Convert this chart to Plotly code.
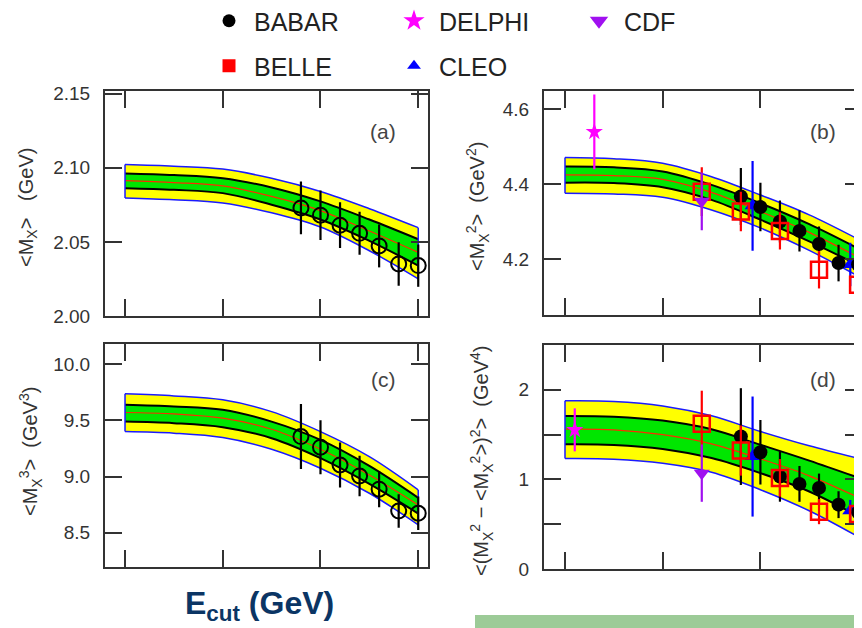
import plotly.graph_objects as go

# ---------------- data ----------------
E_band = [0.0, 0.25, 0.5, 0.75, 1.0, 1.25, 1.5]

# panel (a) <M_X>
a_mid = [2.0913, 2.0900, 2.0878, 2.0807, 2.0711, 2.0573, 2.0429]
a_in_hi = [2.0962, 2.0951, 2.0929, 2.0867, 2.0773, 2.0651, 2.0518]
a_in_lo = [2.0862, 2.0851, 2.0829, 2.0751, 2.0651, 2.0507, 2.0340]
a_out_hi = [2.1022, 2.1011, 2.0991, 2.0929, 2.0840, 2.0724, 2.0596]
a_out_lo = [2.0796, 2.0784, 2.0762, 2.0696, 2.0600, 2.0440, 2.0251]

# panel (b) <M_X^2>
b_mid = [4.425, 4.423, 4.413, 4.378, 4.327, 4.271, 4.205]
b_in_hi = [4.447, 4.445, 4.434, 4.398, 4.349, 4.293, 4.228]
b_in_lo = [4.404, 4.403, 4.392, 4.358, 4.305, 4.247, 4.184]
b_out_hi = [4.471, 4.468, 4.456, 4.420, 4.371, 4.318, 4.253]
b_out_lo = [4.376, 4.374, 4.365, 4.331, 4.283, 4.223, 4.154]

# panel (c) <M_X^3>
c_mid = [9.570, 9.558, 9.520, 9.421, 9.243, 9.014, 8.747]
c_in_hi = [9.638, 9.623, 9.594, 9.489, 9.326, 9.094, 8.810]
c_in_lo = [9.489, 9.475, 9.439, 9.341, 9.163, 8.934, 8.670]
c_out_hi = [9.736, 9.718, 9.683, 9.578, 9.400, 9.177, 8.881]
c_out_lo = [9.400, 9.386, 9.347, 9.243, 9.074, 8.851, 8.570]

# panel (d) <(M_X^2 - <M_X^2>)^2>
d_mid = [1.560, 1.553, 1.500, 1.397, 1.229, 1.040, 0.800]
d_in_hi = [1.708, 1.700, 1.657, 1.560, 1.387, 1.210, 1.020]
d_in_lo = [1.392, 1.385, 1.340, 1.238, 1.070, 0.865, 0.590]
d_out_hi = [1.877, 1.870, 1.820, 1.710, 1.535, 1.375, 1.235]
d_out_lo = [1.232, 1.225, 1.180, 1.080, 0.885, 0.650, 0.360]

# experimental points
E_babar = [0.9, 1.0, 1.1, 1.2, 1.3, 1.4, 1.5]
E_belle = [0.7, 0.9, 1.1, 1.3, 1.5]
E_cleo = [0.96, 1.46]
E_cdf = [0.7]
E_delphi_b = [0.15]
E_delphi_d = [0.05]

a_babar = [2.0729, 2.0680, 2.0613, 2.0558, 2.0473, 2.0351, 2.0340]
a_babar_err = [0.0178, 0.0167, 0.0155, 0.0145, 0.0145, 0.0147, 0.0143]

c_babar = [9.356, 9.261, 9.103, 9.005, 8.887, 8.693, 8.673]
c_babar_err = [0.29, 0.24, 0.20, 0.18, 0.16, 0.15, 0.15]

b_babar = [4.367, 4.339, 4.300, 4.275, 4.240, 4.189, 4.185]
b_babar_err = [0.076, 0.065, 0.056, 0.055, 0.047, 0.049, 0.050]
b_belle = [4.380, 4.327, 4.275, 4.171, 4.131]
b_belle_err = [0.065, 0.053, 0.050, 0.050, 0.045]
b_cleo = [4.342, 4.185]
b_cleo_err = [0.12, 0.058]
b_cdf = [4.354]
b_cdf_err = [0.077]
b_delphi = [4.540]
b_delphi_err = [0.10]

d_babar = [1.478, 1.303, 1.031, 0.950, 0.905, 0.718, 0.633]
d_babar_err = [0.54, 0.36, 0.28, 0.20, 0.16, 0.15, 0.13]
d_belle = [1.620, 1.322, 1.017, 0.640, 0.614]
d_belle_err = [0.37, 0.28, 0.21, 0.14, 0.12]
d_cleo = [1.255, 0.651]
d_cleo_err = [0.67, 0.12]
d_cdf = [1.070]
d_cdf_err = [0.32]
d_delphi = [1.553]
d_delphi_err = [0.24]

x_ticks = [0.0, 0.5, 1.0, 1.5]
a_ticks = [2.00, 2.05, 2.10, 2.15]
b_ticks = [4.2, 4.4, 4.6]
c_ticks = [8.5, 9.0, 9.5, 10.0]
d_ticks = [0, 0.5, 1, 1.5, 2]
d_ticktext = ["0", "", "1", "", "2"]

legend_row1 = ["BABAR", "DELPHI", "CDF"]
legend_row2 = ["BELLE", "CLEO"]

# ---------------- styles ----------------
YELLOW = "#ffff00"
GREEN = "#00e600"
BLUE = "#1a1aff"
RED_LINE = "#ff2a00"
AX = "#333333"
FONT = "Liberation Sans, Arial, Helvetica, sans-serif"

C_BABAR = "#000000"
C_BELLE = "#ff0000"
C_CLEO = "#0000ff"
C_CDF = "#a010f0"
C_DELPHI = "#ff00ff"

# the page body adds an 8 px margin, so the figure is laid out 8 px in
OFF = 8
W, H = 862 - OFF, 628 - OFF
fig = go.Figure()


def add_band(xa, ya, mid, in_hi, in_lo, out_hi, out_lo):
    common = dict(x=E_band, mode="lines", xaxis=xa, yaxis=ya, showlegend=False, hoverinfo="skip")
    fig.add_trace(go.Scatter(y=out_lo, line=dict(color=BLUE, width=1.5, shape="spline"), **common))
    fig.add_trace(go.Scatter(y=out_hi, fill="tonexty", fillcolor=YELLOW,
                             line=dict(color=BLUE, width=1.5, shape="spline"), **common))
    fig.add_trace(go.Scatter(y=in_lo, line=dict(color="black", width=2, shape="spline"), **common))
    fig.add_trace(go.Scatter(y=in_hi, fill="tonexty", fillcolor=GREEN,
                             line=dict(color="black", width=2, shape="spline"), **common))
    fig.add_trace(go.Scatter(y=mid, line=dict(color=RED_LINE, width=1.2, shape="spline"), **common))
    fig.add_trace(go.Scatter(x=[E_band[0], E_band[0], None, E_band[-1], E_band[-1]],
                             y=[out_lo[0], out_hi[0], None, out_lo[-1], out_hi[-1]],
                             mode="lines", line=dict(color=BLUE, width=1.5),
                             xaxis=xa, yaxis=ya, showlegend=False, hoverinfo="skip"))


def add_points(xa, ya, x, y, err, color, symbol, size, lw=0):
    fig.add_trace(go.Scatter(
        x=x, y=y, mode="markers", xaxis=xa, yaxis=ya, showlegend=False,
        error_y=dict(type="data", array=err, visible=True, color=color, thickness=2.2, width=0),
        marker=dict(symbol=symbol, size=size, color=color,
                    line=dict(color=color, width=lw))))


# bands
add_band("x", "y", a_mid, a_in_hi, a_in_lo, a_out_hi, a_out_lo)
add_band("x2", "y2", b_mid, b_in_hi, b_in_lo, b_out_hi, b_out_lo)
add_band("x3", "y3", c_mid, c_in_hi, c_in_lo, c_out_hi, c_out_lo)
add_band("x4", "y4", d_mid, d_in_hi, d_in_lo, d_out_hi, d_out_lo)

# panel (a),(c): open circles
add_points("x", "y", E_babar, a_babar, a_babar_err, C_BABAR, "circle-open", 15, 2)
add_points("x3", "y3", E_babar, c_babar, c_babar_err, C_BABAR, "circle-open", 15, 2)

# panel (b)
add_points("x2", "y2", E_cleo, b_cleo, b_cleo_err, C_CLEO, "triangle-up", 14)
add_points("x2", "y2", E_babar, b_babar, b_babar_err, C_BABAR, "circle", 14)
add_points("x2", "y2", E_belle, b_belle, b_belle_err, C_BELLE, "square-open", 16, 2.5)
add_points("x2", "y2", E_cdf, b_cdf, b_cdf_err, C_CDF, "triangle-down", 14)
add_points("x2", "y2", E_delphi_b, b_delphi, b_delphi_err, C_DELPHI, "star", 13)

# panel (d)
add_points("x4", "y4", E_cleo, d_cleo, d_cleo_err, C_CLEO, "triangle-up", 14)
add_points("x4", "y4", E_babar, d_babar, d_babar_err, C_BABAR, "circle", 14)
add_points("x4", "y4", E_belle, d_belle, d_belle_err, C_BELLE, "square-open", 16, 2.5)
add_points("x4", "y4", E_cdf, d_cdf, d_cdf_err, C_CDF, "triangle-down", 14)
add_points("x4", "y4", E_delphi_d, d_delphi, d_delphi_err, C_DELPHI, "star", 13)

# legend entries
leg_style = {
    "BABAR": ("circle", C_BABAR, 13),
    "DELPHI": ("star", C_DELPHI, 16),
    "CDF": ("triangle-down", C_CDF, 16),
    "BELLE": ("square", C_BELLE, 13),
    "CLEO": ("triangle-up", C_CLEO, 12),
}
for names, leg in ((legend_row1, "legend"), (legend_row2, "legend2")):
    for n in names:
        sym, col, sz = leg_style[n]
        fig.add_trace(go.Scatter(x=[None], y=[None], mode="markers", name=n, legend=leg,
                                 marker=dict(symbol=sym, color=col, size=sz, line=dict(width=0)),
                                 xaxis="x", yaxis="y"))


# ---------------- axes ----------------
def px_x(p):
    return (p - OFF) / W


def px_y(p):
    return 1 - (p - OFF) / H


xcommon = dict(showticklabels=False, ticks="inside", ticklen=17, tickwidth=2, tickcolor=AX,
               showline=True, linewidth=2, linecolor=AX, mirror="ticks", showgrid=False,
               zeroline=False, tickvals=x_ticks, automargin=False)
ycommon = dict(ticks="inside", ticklen=17, tickwidth=2, tickcolor=AX, showline=True,
               linewidth=2, linecolor=AX, mirror="ticks", showgrid=False, zeroline=False,
               tickfont=dict(family=FONT, size=19, color=AX), ticklabelstandoff=9,
               automargin=False)

left_dom = [px_x(105), px_x(428)]
right_dom = [px_x(544), 1.0]
left_range = [-0.1024, 1.55]
right_range = [-0.1075, 1.52]

fig.update_layout(
    xaxis=dict(domain=left_dom, range=left_range, anchor="y", **xcommon),
    yaxis=dict(domain=[px_y(316), px_y(90.7)], range=[2.0, 2.152], tickvals=a_ticks,
               tickformat=".2f", anchor="x", **ycommon),
    xaxis2=dict(domain=right_dom, range=right_range, anchor="y2", **xcommon),
    yaxis2=dict(domain=[px_y(315), px_y(90.7)], range=[4.05, 4.65], tickvals=b_ticks,
                tickformat=".1f", anchor="x2", **ycommon),
    xaxis3=dict(domain=left_dom, range=left_range, anchor="y3", **xcommon),
    yaxis3=dict(domain=[px_y(566.7), px_y(344)], range=[8.197, 10.18], tickvals=c_ticks,
                tickformat=".1f", anchor="x3", **ycommon),
    xaxis4=dict(domain=right_dom, range=right_range, anchor="y4", **xcommon),
    yaxis4=dict(domain=[px_y(569), px_y(345)], range=[0, 2.5], tickvals=d_ticks,
                ticktext=d_ticktext, anchor="x4", **ycommon),
)

# ---------------- text ----------------
ann = []
lab_font = dict(family=FONT, size=21, color="#444444")
for txt, x, y in (("(a)", 383, 132), ("(b)", 823, 132), ("(c)", 383, 379), ("(d)", 823, 379)):
    ann.append(dict(text=txt, x=px_x(x), y=px_y(y), xref="paper", yref="paper",
                    showarrow=False, font=lab_font, xanchor="center", yanchor="middle"))

tfont = dict(family=FONT, size=20, color=AX)
ytitles = [
    ("&lt;M<sub>X</sub>&gt;   (GeV)", 28, 208),
    ("&lt;M<sub>X</sub><sup>2</sup>&gt;  (GeV<sup>2</sup>)", 477, 207),
    ("&lt;M<sub>X</sub><sup>3</sup>&gt;  (GeV<sup>3</sup>)", 30, 452),
    ("&lt;(M<sub>X</sub><sup>2</sup> − &lt;M<sub>X</sub><sup>2</sup>&gt;)<sup>2</sup>&gt;  (GeV<sup>4</sup>)", 481, 460),
]
for txt, x, y in ytitles:
    ann.append(dict(text=txt, x=px_x(x), y=px_y(y), xref="paper", yref="paper",
                    showarrow=False, font=tfont, textangle=-90,
                    xanchor="center", yanchor="middle"))

ann.append(dict(text="<b>E<sub>cut</sub> (GeV)</b>", x=px_x(259), y=px_y(605),
                xref="paper", yref="paper", showarrow=False,
                font=dict(family=FONT, size=32, color="#0b3564"),
                xanchor="center", yanchor="middle"))

leg_common = dict(orientation="h", xref="paper", yref="paper", xanchor="left",
                  yanchor="top", bgcolor="rgba(0,0,0,0)", borderwidth=0,
                  font=dict(family=FONT, size=25, color="#222222"),
                  entrywidth=130, entrywidthmode="pixels", itemwidth=40,
                  itemsizing="trace", traceorder="normal")

fig.update_layout(
    width=W, height=H, autosize=False,
    margin=dict(l=0, r=0, t=0, b=0, pad=0, autoexpand=False),
    paper_bgcolor="white", plot_bgcolor="white",
    annotations=ann,
    legend=dict(x=px_x(204), y=px_y(-2), **leg_common),
    legend2=dict(x=px_x(204), y=px_y(43), **leg_common),
    shapes=[dict(type="rect", xref="paper", yref="paper", x0=px_x(475), x1=1.0,
                 y0=0, y1=px_y(615), fillcolor="#9ccb97", line=dict(width=0), layer="above")],
)

fig.write_html("out.html")
